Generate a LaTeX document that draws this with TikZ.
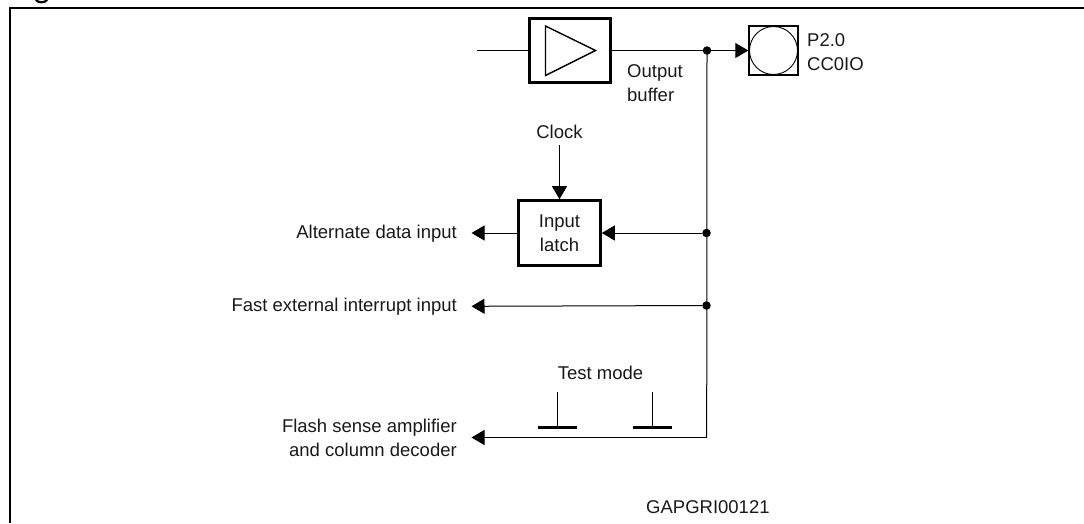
\documentclass[tikz,border=0pt]{standalone}
\usepackage{fontspec}
\setmainfont{Liberation Sans}
\usetikzlibrary{arrows.meta}
\tikzset{
 frameline/.style={line width=2pt,line cap=butt},
 thickbox/.style={draw,line width=2.6pt,minimum width=80pt,inner sep=0pt,fill=white},
 wire/.style={line width=1pt},
 arr/.style={wire,-{Triangle[length=13pt,width=15pt]},shorten >=0pt},
 dot/.style={circle,fill=black,inner sep=0pt,minimum size=8.5pt},
 lab/.style={font=\fontsize{18.5pt}{24pt}\selectfont,inner sep=0pt,text=black!90},
 bar/.style={line width=3pt},
}
\begin{document}
\begin{tikzpicture}[x=1pt,y=-1pt]
\useasboundingbox (0,0) rectangle (1084,523);
% frame
\coordinate (fbl) at (10,523);
\coordinate (ftl) at (10,7.5);
\coordinate (ftr) at (1084,7.5);
\draw[frameline] (fbl) -- (ftl) -- (ftr);
\draw[line width=2.2pt,line cap=round] (36,0) .. controls (38,3) and (45,3) .. (47,0);
% output buffer
\node[thickbox,minimum width=81pt,minimum height=64pt] (buf) at (570,50.5) {};
\coordinate (tria) at (545.5,26);
\coordinate (trib) at (545.5,75.5);
\coordinate (tric) at (595.5,50.5);
\draw[line width=1.4pt,line join=miter] (tria) -- (tric) -- (trib) -- cycle;
\coordinate (in) at (477,50.5);
\draw[wire] (in) -- (buf.west);
% pin
\node[draw,line width=1.4pt,minimum size=49pt,inner sep=0pt] (pin) at (773.5,50.5) {};
\node[circle,draw,line width=0.9pt,minimum size=48pt,inner sep=0pt] (pad) at (773.5,50.5) {};
\node[dot] (d1) at (707,50.5) {};
\draw[wire] (buf.east) -- (d1);
\draw[arr] (d1) -- (pin.west);
% latch
\node[thickbox,minimum width=82pt,minimum height=65pt,align=center,lab] (latch) at (559.5,233) {Input\\latch};
\node[lab] (clk) at (559.5,132) {Clock};
\coordinate (clkstart) at (559.5,145);
\draw[arr] (clkstart) -- (latch.north);
\node[dot] (d2) at (706.5,233) {};
\node[dot] (d3) at (706.5,305.5) {};
\coordinate (corner) at (706.7,437.5);
\draw[wire] (d1.center) -- (corner);
\draw[arr] (d2) -- (latch.east);
\node[lab,anchor=east] (alt) at (457,234) {Alternate data input};
\coordinate (altend) at (471.5,233);
\draw[arr] (latch.west) -- (altend);
\node[lab,anchor=east] (fast) at (457,307) {Fast external interrupt input};
\coordinate (fastend) at (471.5,306.3);
\draw[arr] (d3) -- (fastend);
% flash
\node[lab,anchor=east,align=right] (flash) at (457,437.5) {Flash sense amplifier\\and column decoder};
\coordinate (flashend) at (471.5,437.5);
\draw[arr] (corner) -- (flashend);
% test mode
\node[lab] (test) at (600.5,373) {Test mode};
\coordinate (g1t) at (557.5,392); \coordinate (g1b) at (557.5,427);
\coordinate (g2t) at (652.5,392); \coordinate (g2b) at (652.5,427);
\coordinate (b1a) at (538,427.3); \coordinate (b1b) at (577,427.3);
\coordinate (b2a) at (633,427.3); \coordinate (b2b) at (672,427.3);
\draw[wire] (g1t) -- (g1b);
\draw[wire] (g2t) -- (g2b);
\draw[bar] (b1a) -- (b1b);
\draw[bar] (b2a) -- (b2b);
% labels
\node[lab,anchor=north west,align=left] (obuf) at (627,64) {Output\\buffer};
\node[lab,anchor=north west,align=left] (pname) at (807,33) {P2.0\\CC0IO};
\node[lab,anchor=west] (code) at (646,507) {GAPGRI00121};
\end{tikzpicture}
\end{document}
